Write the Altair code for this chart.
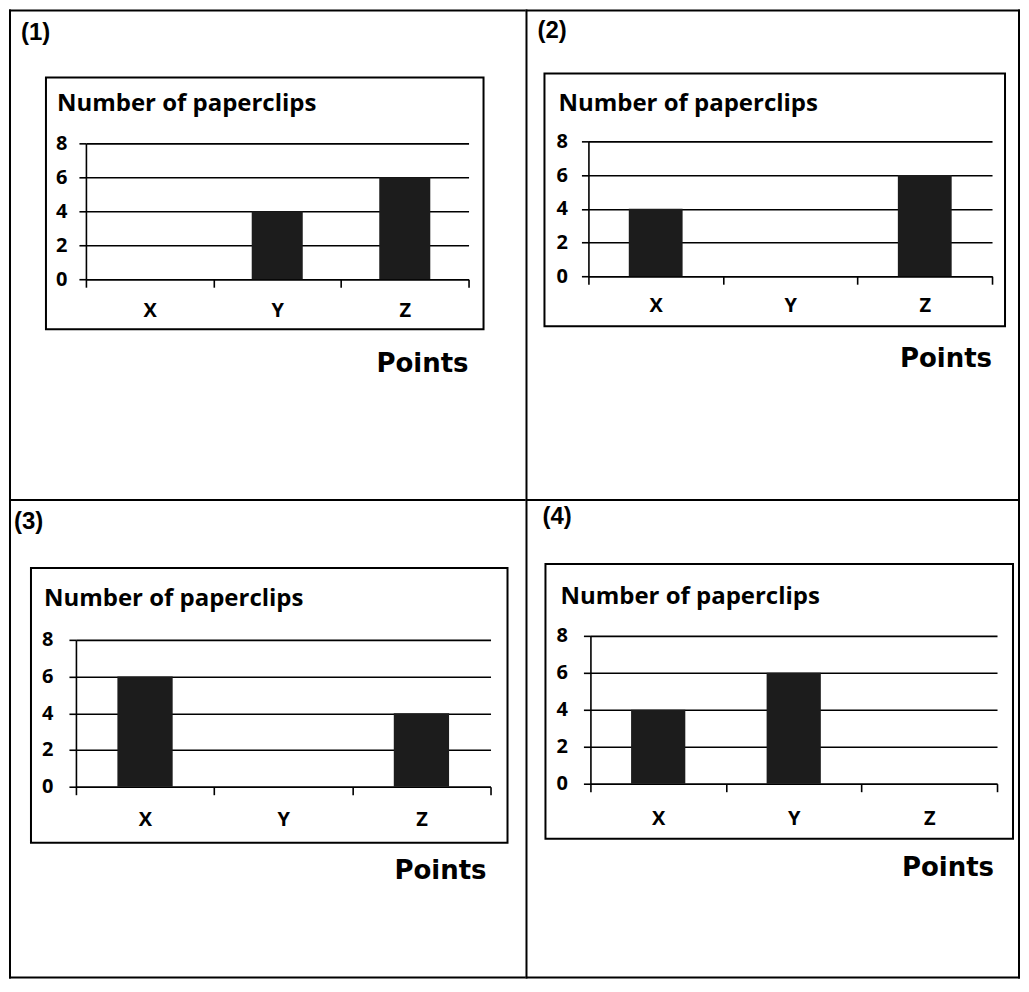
import altair as alt
import pandas as pd

# ---- data ----
categories = ["X", "Y", "Z"]
panel_labels = ["(1)", "(2)", "(3)", "(4)"]
paperclips_1 = [0, 4, 6]
paperclips_2 = [4, 0, 6]
paperclips_3 = [6, 0, 4]
paperclips_4 = [4, 6, 0]
y_ticks = [0, 2, 4, 6, 8]
chart_title = "Number of paperclips"
x_title = "Points"

panel_values = [paperclips_1, paperclips_2, paperclips_3, paperclips_4]

# ---- layout: page pixel positions (styles / positions only) ----
COL_X = [8, 525]          # left edge of each column of cells
COL_W = [517, 495]
ROW_Y = [8, 498]          # top edge of each row of cells
ROW_H = [490, 480]

# plot rectangle (x0, x1, y_top, y_bottom), inner box, label, title, "Points"
GEOM = [
    dict(plot=(85, 468, 142, 278), box=(45, 483, 76, 328), lab=(20, 32),
         tit=(56, 110), pts=(468, 363), ypad=12, xpad=13),
    dict(plot=(588, 992, 140, 275), box=(544, 1005, 72, 325), lab=(537, 30),
         tit=(558, 110), pts=(992, 358), ypad=14, xpad=11),
    dict(plot=(75, 490, 639, 786), box=(30, 507, 567, 842), lab=(13, 521),
         tit=(43, 605), pts=(486, 870), ypad=16, xpad=15),
    dict(plot=(590, 997, 635, 783), box=(545, 1013, 563, 838), lab=(542, 516),
         tit=(560, 603), pts=(994, 867), ypad=16, xpad=17),
]

BAR = "#1c1c1c"
INK = "black"


def make_panel(i):
    g = GEOM[i]
    col, row = i % 2, i // 2
    ox, oy = COL_X[col], ROW_Y[row]
    cw, ch = COL_W[col], ROW_H[row]
    x0, x1, yt, yb = g["plot"][0] - ox, g["plot"][1] - ox, g["plot"][2] - oy, g["plot"][3] - oy

    df = pd.DataFrame({"point": categories, "count": panel_values[i]})
    one = pd.DataFrame({"k": [0]})

    bx = g["box"]
    box = alt.Chart(one).mark_rect(filled=False, stroke=INK, strokeWidth=2).encode(
        x=alt.value(bx[0] - ox), x2=alt.value(bx[1] - ox),
        y=alt.value(bx[2] - oy), y2=alt.value(bx[3] - oy),
    )
    bars = alt.Chart(df).mark_bar(color=BAR, width=alt.RelativeBandSize(0.4)).encode(
        x=alt.X(
            "point:N",
            sort=categories,
            scale=alt.Scale(domain=categories, range=[x0, x1], paddingInner=0, paddingOuter=0),
            axis=alt.Axis(title=None, labelAngle=0, tickBand="extent", tickSize=8,
                          labelPadding=g["xpad"], grid=False, labelFontSize=20,
                          offset=yb - ch),
        ),
        y=alt.Y(
            "count:Q",
            scale=alt.Scale(domain=[0, 8], range=[yb, yt], nice=False),
            axis=alt.Axis(title=None, values=y_ticks, grid=True, tickSize=7,
                          labelPadding=g["ypad"], labelFontSize=20, offset=-x0),
        ),
    )
    label = alt.Chart(one).mark_text(
        text=panel_labels[i], align="left", baseline="middle",
        font="Liberation Sans", fontWeight="bold", fontSize=24, color=INK
    ).encode(x=alt.value(g["lab"][0] - ox), y=alt.value(g["lab"][1] - oy))
    title = alt.Chart(one).mark_text(
        text=chart_title, align="left", baseline="alphabetic",
        font="Open Sans", fontWeight="bold", fontSize=24, color=INK
    ).encode(x=alt.value(g["tit"][0] - ox), y=alt.value(g["tit"][1] - oy))
    points = alt.Chart(one).mark_text(
        text=x_title, align="right", baseline="middle",
        font="DejaVu Sans", fontWeight="bold", fontSize=26, color=INK
    ).encode(x=alt.value(g["pts"][0] - ox), y=alt.value(g["pts"][1] - oy))

    rules = [
        alt.Chart(one).mark_rule(color=INK, strokeWidth=2).encode(
            x=alt.value(0), x2=alt.value(cw), y=alt.value(1)),
        alt.Chart(one).mark_rule(color=INK, strokeWidth=2).encode(
            x=alt.value(1), y=alt.value(0), y2=alt.value(ch)),
    ]
    if col == 1:
        rules.append(alt.Chart(one).mark_rule(color=INK, strokeWidth=2).encode(
            x=alt.value(cw - 1), y=alt.value(0), y2=alt.value(ch)))
    if row == 1:
        rules.append(alt.Chart(one).mark_rule(color=INK, strokeWidth=2).encode(
            x=alt.value(0), x2=alt.value(cw), y=alt.value(ch - 1)))

    return alt.layer(box, bars, label, title, points, *rules).properties(
        width=cw, height=ch
    )


panels = [make_panel(i) for i in range(4)]

chart = alt.concat(
    *panels, columns=2, spacing=0, bounds="flush"
).resolve_scale(
    x="independent", y="independent"
).properties(
    padding=0, background="white"
).configure_view(
    stroke=None
).configure_axis(
    domainColor=INK, domainWidth=1.6, tickColor=INK, tickWidth=1.6,
    gridColor=INK, gridWidth=1.6, gridOpacity=1,
    labelFont="Open Sans", labelFontWeight="bold", labelColor=INK,
)

chart.save("out.html", embed_options={"renderer": "svg", "actions": False})
